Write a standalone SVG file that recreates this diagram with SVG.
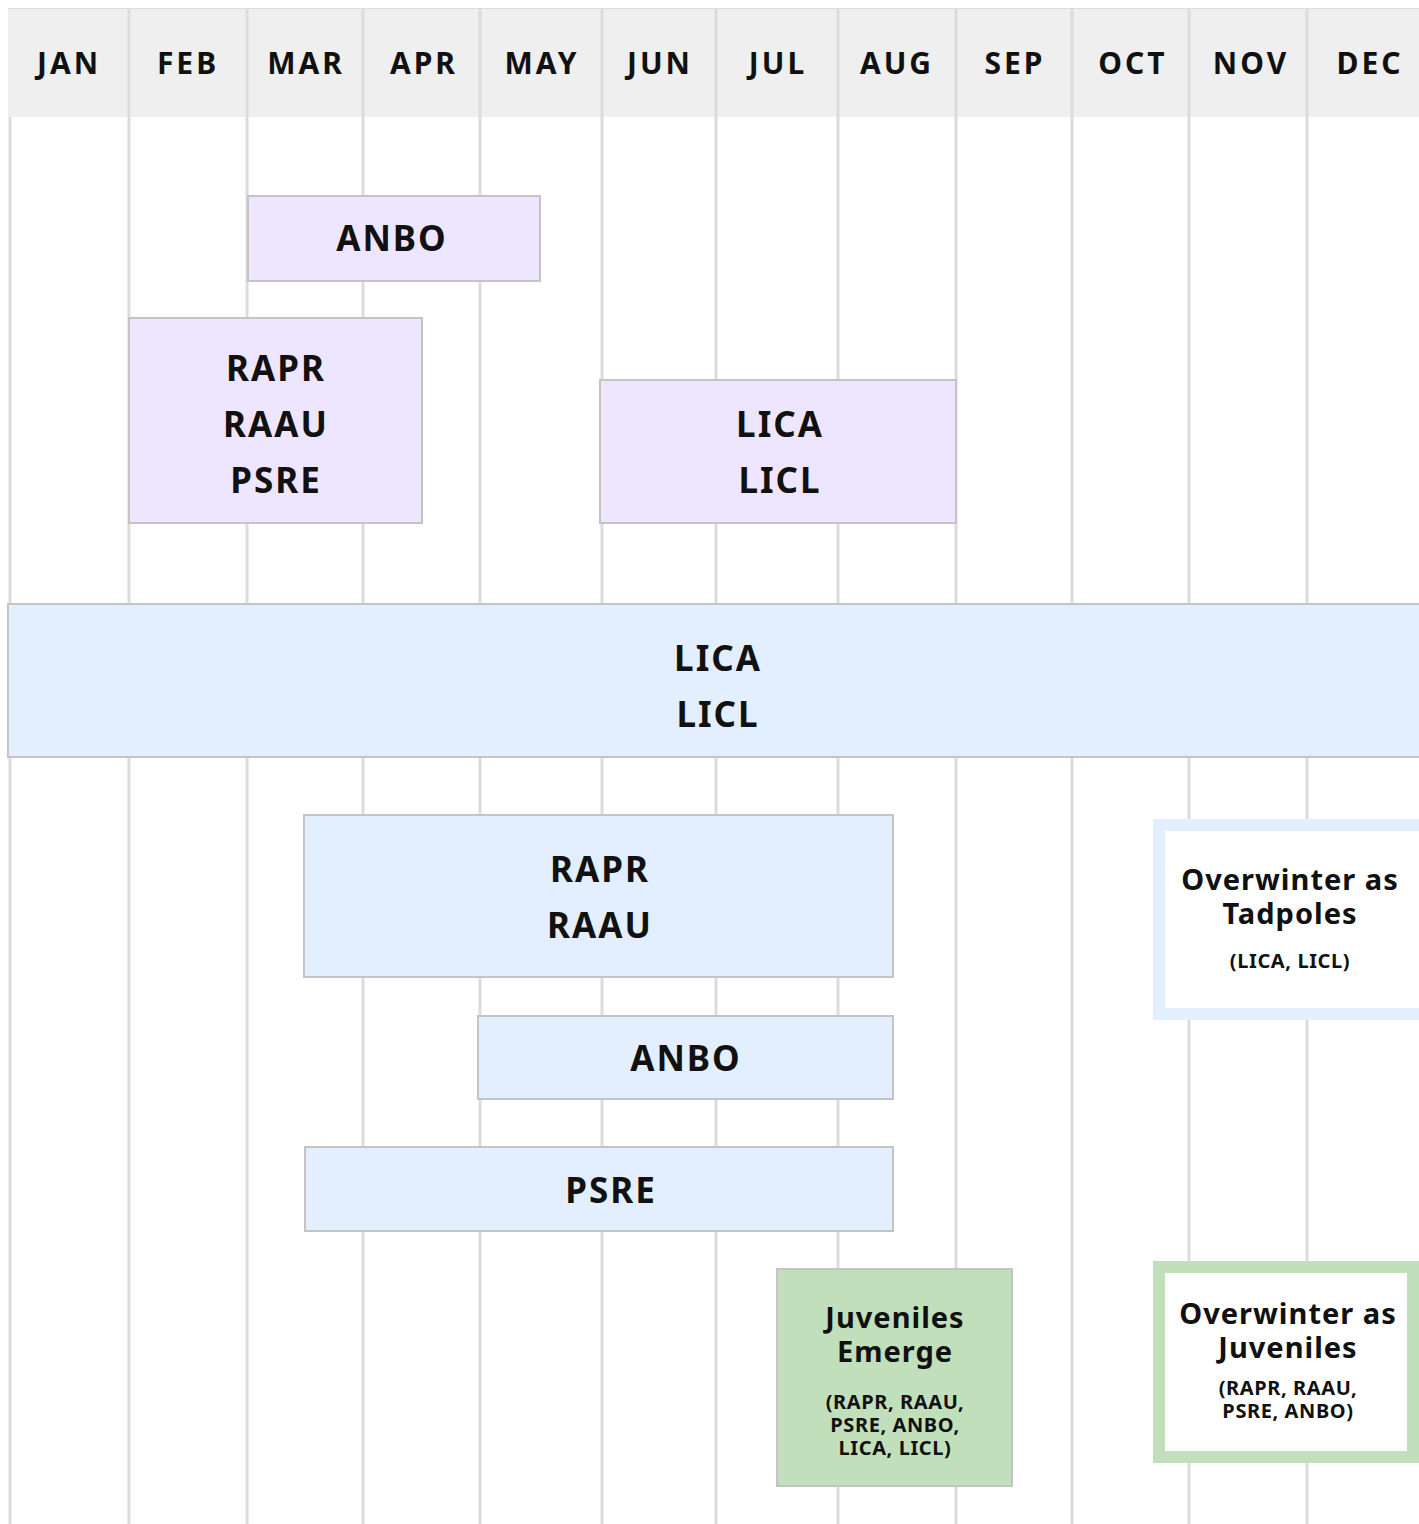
<svg xmlns="http://www.w3.org/2000/svg" width="1419" height="1524" viewBox="0 0 1419 1524">
<style>
text{font-family:"Noto Sans","Open Sans","Liberation Sans",sans-serif;font-weight:700;fill:#111;text-anchor:middle;dominant-baseline:central}
.m{font-size:30px;letter-spacing:3px}
.b{font-size:35px;letter-spacing:2px}
.t{font-size:29px;letter-spacing:1px}
.s{font-size:20px;letter-spacing:0.6px}
.grid{stroke:#dcdcdc;stroke-width:3}
.lav{fill:#eee6fe;stroke:#c4c4c4;stroke-width:2}
.blue{fill:#e3eefe;stroke:#c4c4c4;stroke-width:2}
.green{fill:#c1dfbb;stroke:#c4c4c4;stroke-width:2}
</style>
<rect width="1419" height="1524" fill="#fff"/>
<g id="header">
<rect x="8" y="8" width="1411" height="109" fill="#efefef"/>
<line x1="8" y1="8.5" x2="1419" y2="8.5" stroke="#dcdcdc" stroke-width="1"/>
</g>
<g id="grid" class="grid">
<line x1="10" y1="117" x2="10" y2="1524"/>
<line x1="129" y1="8" x2="129" y2="1524"/>
<line x1="247" y1="8" x2="247" y2="1524"/>
<line x1="363" y1="8" x2="363" y2="1524"/>
<line x1="480" y1="8" x2="480" y2="1524"/>
<line x1="602" y1="8" x2="602" y2="1524"/>
<line x1="716" y1="8" x2="716" y2="1524"/>
<line x1="838" y1="8" x2="838" y2="1524"/>
<line x1="956" y1="8" x2="956" y2="1524"/>
<line x1="1072" y1="8" x2="1072" y2="1524"/>
<line x1="1189" y1="8" x2="1189" y2="1524"/>
<line x1="1307" y1="8" x2="1307" y2="1524"/>
</g>
<g id="months" class="m">
<text x="69" y="62">JAN</text>
<text x="188" y="62">FEB</text>
<text x="306" y="62">MAR</text>
<text x="424" y="62">APR</text>
<text x="542" y="62">MAY</text>
<text x="660" y="62">JUN</text>
<text x="778" y="62">JUL</text>
<text x="897" y="62">AUG</text>
<text x="1015" y="62">SEP</text>
<text x="1133" y="62">OCT</text>
<text x="1251" y="62">NOV</text>
<text x="1370" y="62">DEC</text>
</g>
<g id="connectors"/>
<g id="breed-anbo"><rect class="lav" x="248" y="196" width="292" height="85"/><text class="b" x="392" y="237">ANBO</text></g>
<g id="breed-rapr"><rect class="lav" x="129" y="318" width="293" height="205"/><text class="b" x="276" y="367">RAPR</text><text class="b" x="276" y="423">RAAU</text><text class="b" x="276" y="479">PSRE</text></g>
<g id="breed-lica"><rect class="lav" x="600" y="380" width="356" height="143"/><text class="b" x="780" y="423">LICA</text><text class="b" x="780" y="479">LICL</text></g>
<g id="tad-lica"><rect class="blue" x="8" y="604" width="1419" height="153"/><text class="b" x="718" y="657">LICA</text><text class="b" x="718" y="713">LICL</text></g>
<g id="tad-rapr"><rect class="blue" x="304" y="815" width="589" height="162"/><text class="b" x="600" y="868">RAPR</text><text class="b" x="600" y="924">RAAU</text></g>
<g id="tad-anbo"><rect class="blue" x="478" y="1016" width="415" height="83"/><text class="b" x="686" y="1057">ANBO</text></g>
<g id="tad-psre"><rect class="blue" x="305" y="1147" width="588" height="84"/><text class="b" x="611" y="1189">PSRE</text></g>
<g id="juv-emerge"><rect class="green" x="777" y="1269" width="235" height="217"/><text class="t" x="895" y="1316">Juveniles</text><text class="t" x="895" y="1350">Emerge</text><text class="s" x="895" y="1401">(RAPR, RAAU,</text><text class="s" x="895" y="1424">PSRE, ANBO,</text><text class="s" x="895" y="1447">LICA, LICL)</text></g>
<g id="ow-tadpoles"><rect x="1159" y="825" width="266" height="189" fill="#fff" stroke="#e3eefe" stroke-width="12"/><text class="t" x="1290" y="878">Overwinter as</text><text class="t" x="1290" y="912">Tadpoles</text><text class="s" x="1290" y="960">(LICA, LICL)</text></g>
<g id="ow-juveniles"><rect x="1159" y="1267" width="254" height="190" fill="#fff" stroke="#c1dfbb" stroke-width="12"/><text class="t" x="1288" y="1312">Overwinter as</text><text class="t" x="1288" y="1346">Juveniles</text><text class="s" x="1288" y="1387">(RAPR, RAAU,</text><text class="s" x="1288" y="1410">PSRE, ANBO)</text></g>
</svg>
